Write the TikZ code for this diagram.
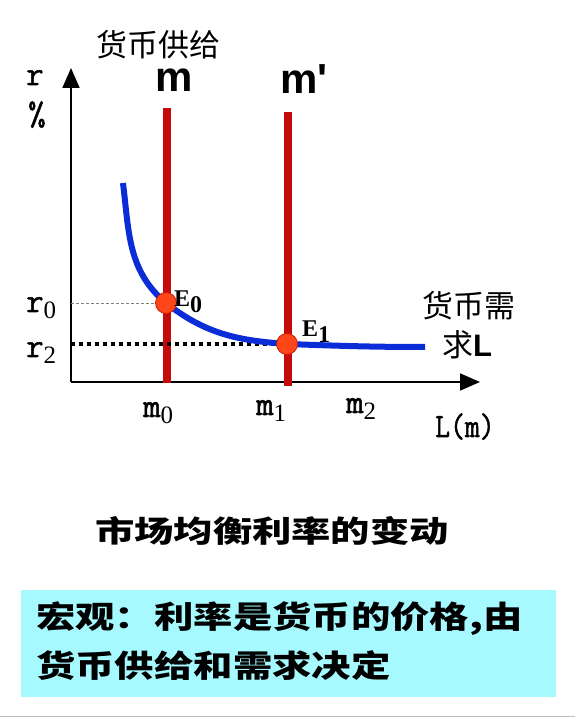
\documentclass[tikz,border=0pt]{standalone}
\usepackage{fontspec}
\usepackage{tikz}
\usetikzlibrary{arrows.meta, positioning, calc}
\setmainfont{Liberation Serif}
\newfontfamily\cjk{Noto Sans CJK SC}
\newfontfamily\sansb{Liberation Sans}
\newfontfamily\axfont[FakeBold=1.6]{Latin Modern Mono}
\definecolor{supred}{RGB}{196,10,10}
\definecolor{demblue}{RGB}{10,45,215}
\definecolor{eqorange}{RGB}{255,70,25}
\definecolor{eqedge}{RGB}{200,30,10}
\definecolor{boxcyan}{RGB}{166,250,255}
\newcommand{\lsub}[1]{\raisebox{-7pt}{\rmfamily\fontsize{25}{25}\selectfont #1}}
\newcommand{\esub}[1]{\raisebox{-6pt}{\fontsize{24}{24}\selectfont #1}}
\tikzset{
  axis/.style={-{Triangle[length=20pt, width=17pt]}, line width=1.8pt, color=black},
  supply/.style={line width=8pt, color=supred},
  demand/.style={line width=6pt, color=demblue},
  eqpt/.style={circle, fill=eqorange, draw=eqedge, line width=0.8pt,
    minimum size=21pt, inner sep=0pt},
  lbl/.style={font=\axfont\fontsize{34}{36}\selectfont, inner sep=0pt, anchor=base west},
  elbl/.style={font=\bfseries\fontsize{24}{26}\selectfont, inner sep=0pt, anchor=base west},
  cjklbl/.style={font=\cjk\fontsize{31}{33}\selectfont, inner sep=0pt},
  bigm/.style={font=\sansb\bfseries\fontsize{42}{44}\selectfont, inner sep=0pt, anchor=base west}
}

\begin{document}
\begin{tikzpicture}[x=1pt, y=1pt]
  \useasboundingbox (0,0) rectangle (575,721);

  % Axes
  \coordinate (O) at (71,339);
  \coordinate (Ytip) at (71,653);
  \coordinate (Xtip) at (480,339);
  \draw[axis] (O) -- (Ytip);
  \draw[axis] (O) -- (Xtip);
  \node[lbl] (rlab) at (26,636) {r};
  \node[lbl] (pct) at (28,596) {\%};

  % Money supply lines
  \coordinate (Mtop) at (167,613);
  \coordinate (Mbot) at (167,338);
  \coordinate (M1top) at (288,609);
  \coordinate (M1bot) at (288,335);
  \draw[supply] (Mtop) -- (Mbot);
  \draw[supply] (M1top) -- (M1bot);
  \node[cjklbl] (supp) at (158,676) {货币供给};
  \node[bigm] (mlab) at (155,629) {m};
  \node[bigm] (m1lab) at (280,627) {m'};

  % Equilibrium points
  \coordinate (E0) at (166,418);
  \coordinate (E1) at (287,377);
  \coordinate (r0) at (71,418);
  \coordinate (r2) at (71,377);
  \draw[gray, line width=0.5pt, dash pattern=on 3pt off 2pt] (r0) -- (E0);
  \draw[black, line width=3.5pt, dash pattern=on 4pt off 4pt] (r2) -- (E1);

  % Money demand curve
  \coordinate (Lstart) at (123,538);
  \coordinate (Lend) at (425,374);
  \draw[demand] (Lstart) to[out=-83, in=140] (E0)
    to[out=-38, in=176] (E1) to[out=-2, in=180] (Lend);

  \node[eqpt] (e0) at (E0) {};
  \node[eqpt] (e1) at (E1) {};
  \node[elbl] (e0lab) at (174,414) {E\esub{0}};
  \node[elbl] (e1lab) at (302,384) {E\esub{1}};
  \node[cjklbl] (dem1) at (469,415) {货币需};
  \node[cjklbl, anchor=west] (dem2) at (442,376) {求{\sansb\bfseries L}};

  % Axis labels
  \node[lbl] (r0lab) at (26,409) {r\lsub{0}};
  \node[lbl] (r2lab) at (26,364) {r\lsub{2}};
  \node[lbl] (m0lab) at (143,304) {m\lsub{0}};
  \node[lbl] (m1sub) at (256,306) {m\lsub{1}};
  \node[lbl] (m2lab) at (346,308) {m\lsub{2}};
  \node[lbl, xscale=0.85] (Llab) at (435,284) {L(m)};

  % Title and note box
  \node[font=\cjk\bfseries\fontsize{30}{32}\selectfont, inner sep=0pt, xscale=1.31] (title) at (272,190) {市场均衡利率的变动};
  \fill[boxcyan] (21,24) rectangle (556,131);
  \node[font=\cjk\bfseries\fontsize{31}{49}\selectfont, align=left, anchor=west, inner sep=0pt, xscale=1.27]
    (note) at (36,80) {宏观：利率是货币的价格,由\\货币供给和需求决定};
  \draw[gray!50, line width=1pt] (0,4) -- (575,4);
\end{tikzpicture}
\end{document}
